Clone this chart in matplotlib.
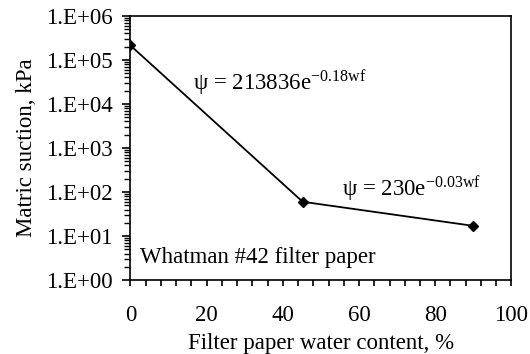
import numpy as np
import matplotlib
matplotlib.use("Agg")
import matplotlib.pyplot as plt
from matplotlib.ticker import MultipleLocator, LogLocator, FuncFormatter, NullFormatter

plt.rcParams["font.family"] = ["Liberation Serif", "DejaVu Serif"]
plt.rcParams["mathtext.fontset"] = "custom"
plt.rcParams["mathtext.rm"] = "Liberation Serif"
plt.rcParams["mathtext.it"] = "Liberation Serif:italic"

water_content = [0, 45.2, 90]
suction = [213836, 60, 17]

eq1 = "ψ = 213836e$^{\\mathrm{-0.18wf}}$"
eq2 = "ψ = 230e$^{\\mathrm{-0.03wf}}$"
paper_label = "Whatman #42 filter paper"

fs = 16.5

fig = plt.figure(figsize=(5.3, 3.54), dpi=100)
ax = fig.add_axes([0.246, 0.209, 0.719, 0.746])

ax.plot(water_content, suction, color="black", lw=1.3, marker="D", ms=5.5)

ax.set_yscale("log")
ax.set_xlim(0, 100)
ax.set_ylim(1, 1e6)
ax.xaxis.set_major_locator(MultipleLocator(20))
ax.xaxis.set_minor_locator(MultipleLocator(4))
ax.yaxis.set_major_locator(LogLocator(base=10, numticks=10))
ax.yaxis.set_minor_locator(LogLocator(base=10, subs=np.arange(2, 10), numticks=20))
ax.yaxis.set_major_formatter(FuncFormatter(lambda v, p: "1.E+%02d" % int(round(np.log10(v)))))
ax.yaxis.set_minor_formatter(NullFormatter())

ax.tick_params(axis="both", which="both", direction="out", color="black", labelsize=fs)
ax.tick_params(axis="y", which="major", length=6, width=1.2, pad=7)
ax.tick_params(axis="y", which="minor", length=4, width=1)
ax.tick_params(axis="x", which="both", length=4, width=1.2, pad=14)
for s in ax.spines.values():
    s.set_linewidth(1.2)

ax.set_xlabel("Filter paper water content, %", fontsize=fs, labelpad=5)
ax.set_ylabel("Matric suction, kPa", fontsize=fs, labelpad=6)

ax.text(16.5, 3.0e4, eq1, fontsize=fs, va="center")
ax.text(55.5, 115, eq2, fontsize=fs, va="center")
ax.text(2.5, 3.3, paper_label, fontsize=fs, va="center")

fig.savefig("out.png", dpi=100)
